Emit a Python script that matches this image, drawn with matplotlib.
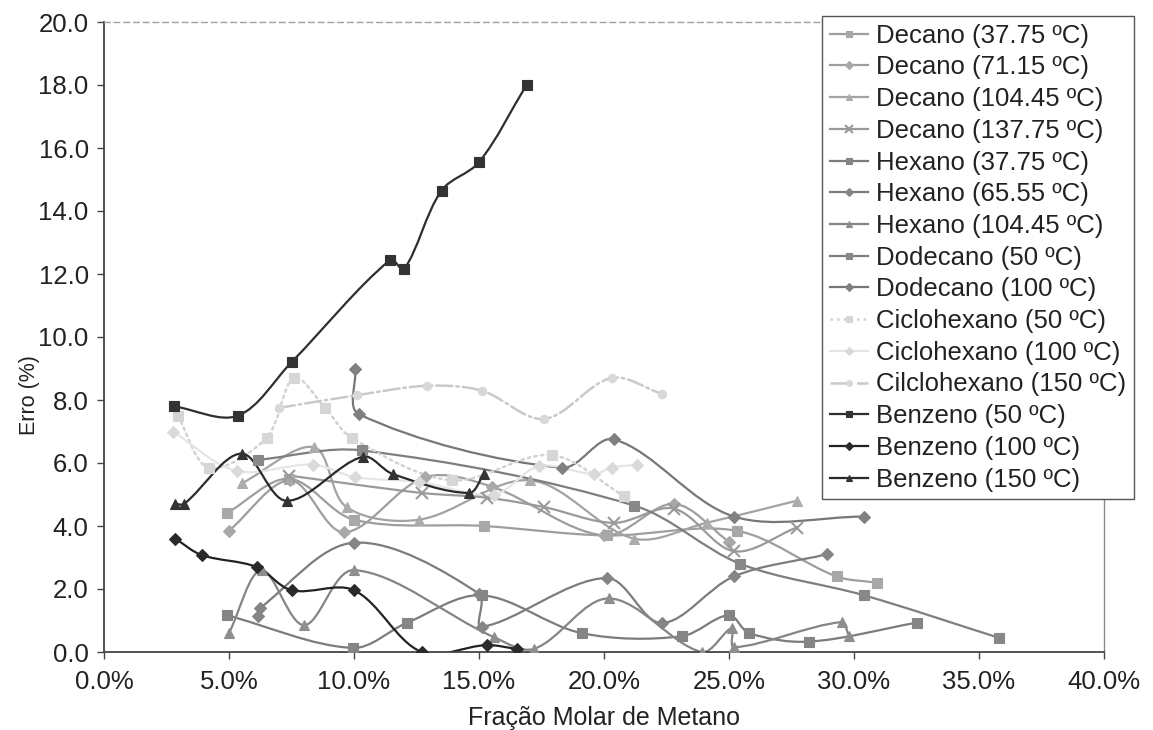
import numpy as np
import matplotlib
matplotlib.use('Agg')
import matplotlib.pyplot as plt
from matplotlib.path import Path
from matplotlib.patches import PathPatch
from matplotlib.lines import Line2D
from matplotlib.ticker import FuncFormatter, MultipleLocator

plt.rcParams['font.family'] = ['Liberation Sans', 'DejaVu Sans']

# ---------------- data (x = fração molar, y = erro %) ----------------
decano_3775_x = [0.049, 0.074, 0.100, 0.152, 0.201, 0.253, 0.293, 0.309]
decano_3775_y = [4.40, 5.50, 4.20, 4.00, 3.70, 3.85, 2.40, 2.20]

decano_7115_x = [0.050, 0.0745, 0.096, 0.1285, 0.155, 0.200, 0.228, 0.250]
decano_7115_y = [3.85, 5.45, 3.80, 5.55, 5.25, 3.70, 4.70, 3.50]

decano_10445_x = [0.055, 0.084, 0.097, 0.126, 0.1705, 0.212, 0.241, 0.277]
decano_10445_y = [5.35, 6.50, 4.60, 4.20, 5.45, 3.60, 4.10, 4.80]

decano_13775_x = [0.074, 0.127, 0.153, 0.176, 0.204, 0.228, 0.252, 0.277]
decano_13775_y = [5.60, 5.05, 4.90, 4.60, 4.10, 4.55, 3.20, 3.95]

hexano_3775_x = [0.049, 0.0995, 0.121, 0.151, 0.191, 0.231, 0.250, 0.258, 0.282, 0.325]
hexano_3775_y = [1.17, 0.13, 0.92, 1.80, 0.60, 0.50, 1.17, 0.60, 0.33, 0.93]

hexano_6555_x = [0.0615, 0.0625, 0.100, 0.150, 0.151, 0.201, 0.223, 0.252, 0.289]
hexano_6555_y = [1.15, 1.40, 3.47, 1.85, 0.80, 2.35, 0.92, 2.40, 3.10]

hexano_10445_x = [0.050, 0.063, 0.080, 0.100, 0.156, 0.172, 0.202, 0.239, 0.251, 0.252, 0.295, 0.298]
hexano_10445_y = [0.60, 2.60, 0.85, 2.60, 0.47, 0.10, 1.70, 0.00, 0.75, 0.15, 0.95, 0.50]

dodecano_50_x = [0.0615, 0.103, 0.212, 0.2545, 0.304, 0.358]
dodecano_50_y = [6.10, 6.40, 4.65, 2.80, 1.80, 0.45]

dodecano_100_x = [0.1005, 0.102, 0.183, 0.204, 0.252, 0.304]
dodecano_100_y = [8.97, 7.55, 5.85, 6.75, 4.30, 4.30]

ciclo_50_x = [0.0295, 0.042, 0.065, 0.076, 0.0885, 0.099, 0.139, 0.179, 0.208]
ciclo_50_y = [7.50, 5.85, 6.80, 8.70, 7.75, 6.80, 5.45, 6.25, 4.95]

ciclo_100_x = [0.0275, 0.053, 0.0835, 0.1005, 0.126, 0.156, 0.174, 0.196, 0.203, 0.213]
ciclo_100_y = [7.00, 5.75, 5.95, 5.55, 5.40, 5.00, 5.90, 5.65, 5.85, 5.95]

ciclo_150_x = [0.070, 0.101, 0.129, 0.151, 0.176, 0.203, 0.223]
ciclo_150_y = [7.75, 8.15, 8.45, 8.30, 7.40, 8.70, 8.20]

benzeno_50_x = [0.028, 0.0535, 0.075, 0.1145, 0.120, 0.135, 0.150, 0.169]
benzeno_50_y = [7.80, 7.50, 9.20, 12.45, 12.15, 14.65, 15.55, 18.00]

benzeno_100_x = [0.0285, 0.039, 0.061, 0.075, 0.100, 0.127, 0.153, 0.165]
benzeno_100_y = [3.60, 3.08, 2.70, 1.96, 1.96, 0.00, 0.22, 0.10]

benzeno_150_x = [0.0285, 0.032, 0.055, 0.073, 0.1035, 0.1155, 0.146, 0.152]
benzeno_150_y = [4.70, 4.70, 6.30, 4.80, 6.20, 5.65, 5.05, 5.65]

labels = ['Decano (37.75 ºC)', 'Decano (71.15 ºC)', 'Decano (104.45 ºC)', 'Decano (137.75 ºC)',
          'Hexano (37.75 ºC)', 'Hexano (65.55 ºC)', 'Hexano (104.45 ºC)',
          'Dodecano (50 ºC)', 'Dodecano (100 ºC)',
          'Ciclohexano (50 ºC)', 'Ciclohexano (100 ºC)', 'Cilclohexano (150 ºC)',
          'Benzeno (50 ºC)', 'Benzeno (100 ºC)', 'Benzeno (150 ºC)']

xs = [decano_3775_x, decano_7115_x, decano_10445_x, decano_13775_x,
      hexano_3775_x, hexano_6555_x, hexano_10445_x,
      dodecano_50_x, dodecano_100_x,
      ciclo_50_x, ciclo_100_x, ciclo_150_x,
      benzeno_50_x, benzeno_100_x, benzeno_150_x]
ys = [decano_3775_y, decano_7115_y, decano_10445_y, decano_13775_y,
      hexano_3775_y, hexano_6555_y, hexano_10445_y,
      dodecano_50_y, dodecano_100_y,
      ciclo_50_y, ciclo_100_y, ciclo_150_y,
      benzeno_50_y, benzeno_100_y, benzeno_150_y]

# style: (line color, marker color, marker, marker size, linestyle)
styles = [
    ('#9e9e9e', '#a8a8a8', 's', 6.5, '-'),
    ('#9e9e9e', '#a8a8a8', 'D', 6.0, '-'),
    ('#a3a3a3', '#acacac', '^', 6.5, '-'),
    ('#9a9a9a', '#9a9a9a', 'x', 9.0, '-'),
    ('#7c7c7c', '#858585', 's', 6.5, '-'),
    ('#7c7c7c', '#858585', 'D', 6.0, '-'),
    ('#858585', '#8e8e8e', '^', 6.5, '-'),
    ('#7e7e7e', '#888888', 's', 6.5, '-'),
    ('#777777', '#808080', 'D', 6.0, '-'),
    ('#d2d2d2', '#d6d6d6', 's', 6.5, ':'),
    ('#e5e5e5', '#dadada', 'D', 6.0, '-'),
    ('#c9c9c9', '#d8d8d8', 'o', 6.0, '-.'),
    ('#2e2e2e', '#333333', 's', 6.5, '-'),
    ('#222222', '#2a2a2a', 'D', 6.5, '-'),
    ('#2a2a2a', '#333333', '^', 6.5, '-'),
]

XMAX, YMAX = 0.40, 20.0
PX_W, PX_H = 1000.0, 630.0


def smooth_path(x, y):
    """Excel-like smoothed line: cubic Bezier with tangent lengths scaled by segment lengths."""
    pts = np.column_stack([x, y]).astype(float)
    scale = np.array([PX_W / XMAX, PX_H / YMAX])
    n = len(pts)

    def d(a, b):
        return np.hypot(*((b - a) * scale))

    verts = [pts[0]]
    codes = [Path.MOVETO]
    for i in range(n - 1):
        p0 = pts[i - 1] if i > 0 else pts[i]
        p1 = pts[i]
        p2 = pts[i + 1]
        p3 = pts[i + 2] if i + 2 < n else pts[i + 1]
        d01, d12, d23 = d(p0, p1), d(p1, p2), d(p2, p3)
        f1 = d12 / (d01 + d12) if (d01 + d12) > 0 else 0.5
        f2 = d12 / (d12 + d23) if (d12 + d23) > 0 else 0.5
        c1 = p1 + (p2 - p0) * f1 / 3.0
        c2 = p2 - (p3 - p1) * f2 / 3.0
        verts += [c1, c2, p2]
        codes += [Path.CURVE4] * 3
    return Path(verts, codes)


fig = plt.figure(figsize=(11.53, 7.30), dpi=100)
ax = fig.add_axes([104 / 1153, 1 - 652 / 730, PX_W / 1153, PX_H / 730])

handles = []
for lab, x, y, (lc, mc, mk, ms, ls) in zip(labels, xs, ys, styles):
    lw = 1.6 if ls == '-' else 1.8
    patch = PathPatch(smooth_path(x, y), facecolor='none', edgecolor=lc,
                      linewidth=lw, linestyle=ls, transform=ax.transData,
                      zorder=2, capstyle='round')
    ax.add_patch(patch)
    mew = 1.5 if mk == 'x' else 0.8
    ax.plot(x, y, linestyle='none', marker=mk, markersize=ms,
            markerfacecolor=mc, markeredgecolor=mc, markeredgewidth=mew, zorder=3)
    handles.append(Line2D([], [], color=lc, linestyle=ls, linewidth=lw,
                          marker=mk, markersize=ms * 0.7,
                          markerfacecolor=mc, markeredgecolor=mc,
                          markeredgewidth=mew, label=lab))

ax.set_xlim(0, XMAX)
ax.set_ylim(0, YMAX)
ax.xaxis.set_major_locator(MultipleLocator(0.05))
ax.yaxis.set_major_locator(MultipleLocator(2))
ax.xaxis.set_major_formatter(FuncFormatter(lambda v, p: f'{v * 100:.1f}%'))
ax.yaxis.set_major_formatter(FuncFormatter(lambda v, p: f'{v:.1f}'))
ax.tick_params(axis='both', direction='out', length=5, width=1.0,
               colors='#444444', labelcolor='#222222', labelsize=18.5)
ax.tick_params(axis='y', pad=6)
ax.tick_params(axis='x', pad=8)

for side in ['left', 'bottom']:
    ax.spines[side].set_color('#444444')
    ax.spines[side].set_linewidth(1.3)
ax.spines['top'].set_color('#a0a0a0')
ax.spines['top'].set_linestyle((0, (4, 3)))
ax.spines['top'].set_linewidth(1.0)
ax.spines['right'].set_color('#8a8a8a')
ax.spines['right'].set_linewidth(1.0)

ax.set_xlabel('Fração Molar de Metano', fontsize=18, color='#222222', va='center')
ax.xaxis.set_label_coords(0.5, (652 - 718) / PX_H)
ax.set_ylabel('Erro (%)', fontsize=15.5, color='#222222', va='center', ha='center')
ax.yaxis.set_label_coords((30 - 104) / PX_W, (652 - 395) / PX_H)

leg = fig.legend(handles=handles, loc='upper left',
                 bbox_to_anchor=(822 / 1153, 1 - 16 / 730),
                 bbox_transform=fig.transFigure, borderaxespad=0,
                 fontsize=18.5, labelspacing=0.30, handlelength=1.5,
                 handletextpad=0.3, borderpad=0.3, fancybox=False,
                 frameon=True, framealpha=1.0)
leg.get_frame().set_edgecolor('#555555')
leg.get_frame().set_linewidth(1.0)
for t in leg.get_texts():
    t.set_color('#222222')

fig.savefig('out.png', dpi=100)
